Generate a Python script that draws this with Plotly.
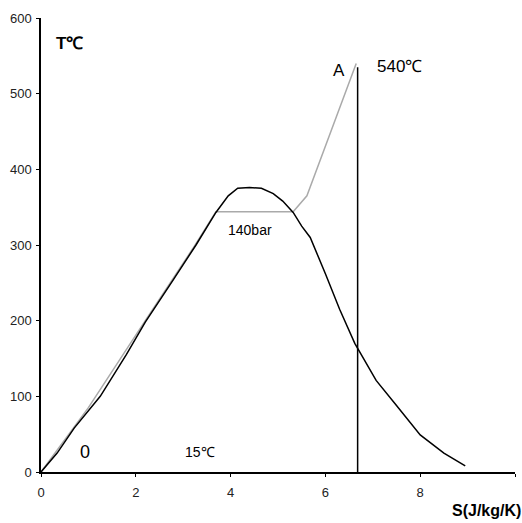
import plotly.graph_objects as go

# Saturation dome (black)
dome_s = [0, 0.34, 0.7, 1.25, 1.8, 2.2, 2.8, 3.27, 3.69, 3.95, 4.15, 4.4, 4.65, 4.9, 5.1, 5.32, 5.5, 5.68, 6.0, 6.3, 6.62, 7.07, 7.5, 8.0, 8.5, 8.95]
dome_t = [0, 25, 58, 100, 155, 198, 255, 300, 343, 365, 375, 376, 375, 368, 358, 343, 325, 310, 262, 215, 170, 121, 88, 49, 25, 8]

# Cycle line at 140 bar (gray)
cycle_s = [0, 1.0, 2.2, 3.2, 3.69, 5.32, 5.61, 6.65]
cycle_t = [0, 85, 200, 295, 344, 344, 365, 540]

# Expansion line (black vertical)
exp_s = [6.68, 6.68]
exp_t = [0, 535]

x_ticks = [0, 2, 4, 6, 8, 10]
y_ticks = [0, 100, 200, 300, 400, 500, 600]

font = "Liberation Sans, Arial, sans-serif"

fig = go.Figure()
fig.add_trace(go.Scatter(x=cycle_s, y=cycle_t, mode="lines",
                         line=dict(color="#aaaaaa", width=1.5), showlegend=False))
fig.add_trace(go.Scatter(x=dome_s, y=dome_t, mode="lines",
                         line=dict(color="black", width=1.5), showlegend=False))
fig.add_trace(go.Scatter(x=exp_s, y=exp_t, mode="lines",
                         line=dict(color="black", width=1.5), showlegend=False))

annos = [
    dict(x=0.61, y=566, text="<b>T℃</b>", size=17),
    dict(x=6.29, y=531, text="A", size=17),
    dict(x=7.57, y=536, text="540℃", size=17),
    dict(x=4.41, y=320, text="140bar", size=14),
    dict(x=0.92, y=26, text="0", size=18),
    dict(x=3.35, y=26, text="15℃", size=14),
]
for a in annos:
    fig.add_annotation(x=a["x"], y=a["y"], text=a["text"], showarrow=False,
                       xanchor="center", yanchor="middle",
                       font=dict(size=a["size"], color="black", family=font))
fig.add_annotation(x=1.0, y=0, xref="paper", yref="paper", text="<b>S(J/kg/K)</b>",
                   showarrow=False, xanchor="right", yanchor="top", yshift=-28, xshift=8,
                   font=dict(size=16, color="black", family=font))

axis_common = dict(showgrid=False, zeroline=False, showline=True, linecolor="black",
                   linewidth=1.5, tickcolor="black", tickwidth=1.2, ticklen=3)

fig.update_layout(
    width=522, height=523,
    margin=dict(l=41, r=7, t=18, b=51),
    paper_bgcolor="white", plot_bgcolor="white",
    font=dict(family=font, size=13, color="#222222"),
    xaxis=dict(range=[0, 10], tickvals=x_ticks, ticks="outside", ticklabelstandoff=5,
               **axis_common),
    yaxis=dict(range=[0, 600], tickvals=y_ticks, ticks="outside", ticklabelstandoff=2,
               **axis_common),
    xaxis2=dict(range=[0, 10], tickvals=x_ticks, ticks="inside", overlaying="x",
                anchor="y", side="bottom", showticklabels=False, **axis_common),
    yaxis2=dict(range=[0, 600], tickvals=y_ticks, ticks="inside", overlaying="y",
                anchor="x", side="left", showticklabels=False, **axis_common),
)

fig.write_html("out.html")
